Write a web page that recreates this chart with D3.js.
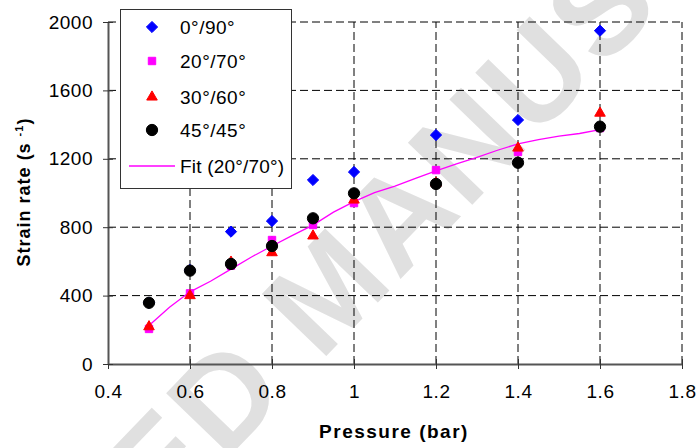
<!DOCTYPE html>
<html>
<head>
<meta charset="utf-8">
<script src="https://cdn.jsdelivr.net/npm/d3@7"></script>
<style>
  body { margin: 0; background: #fff; }
  svg { font-family: "Liberation Sans", Arial, sans-serif; }
</style>
</head>
<body>
<div id="chart"></div>
<script>
// pressure values (bar)
const pressure = [0.5, 0.6, 0.7, 0.8, 0.9, 1.0, 1.2, 1.4, 1.6];

// strain rate per fibre orientation (s^-1)
const s0_90 = [358, 550, 774, 836, 1076, 1123, 1339, 1427, 1949];
const s20_70 = [205, 413, 575, 725, 813, 941, 1134, 1240, 1380];
const s30_60 = [218, 400, 596, 651, 749, 959, 1058, 1263, 1467];
const s45_45 = [358, 546, 585, 690, 852, 998, 1053, 1177, 1388];

// fit curve for 20/70
const fitP = [0.5, 0.55, 0.6, 0.65, 0.7, 0.75, 0.8, 0.85, 0.9, 0.95, 1.0, 1.05, 1.1, 1.15, 1.2, 1.25, 1.3, 1.35, 1.4, 1.45, 1.5, 1.55, 1.6];
const fitS = [225, 332, 422, 484, 555, 626, 690, 752, 812, 888, 950, 1002, 1040, 1086, 1130, 1170, 1209, 1250, 1287, 1312, 1332, 1348, 1370];

const xTicks = [0.4, 0.6, 0.8, 1.0, 1.2, 1.4, 1.6, 1.8];
const yTicks = [0, 400, 800, 1200, 1600, 2000];

const seriesNames = ["0°/90°", "20°/70°", "30°/60°", "45°/45°"];

const width = 698, height = 448;
const svg = d3.select("#chart").append("svg")
    .attr("width", width)
    .attr("height", height);

// watermark in the background
svg.append("text")
    .attr("transform", "translate(218,468) rotate(-46)")
    .attr("x", -640)
    .attr("font-size", 130)
    .attr("font-weight", "bold")
    .attr("letter-spacing", 4)
    .attr("fill", "#e0e0e0")
    .text("ACCEPTED MANUSCRIPT");

const x = d3.scaleLinear().domain([0.4, 1.8]).range([108, 682]);
const y = d3.scaleLinear().domain([0, 2000]).range([364, 22]);

// grid
const grid = svg.append("g");
grid.selectAll(".hg").data(yTicks.slice(1)).enter().append("line")
    .attr("x1", x(0.4)).attr("x2", x(1.8))
    .attr("y1", d => y(d)).attr("y2", d => y(d))
    .attr("stroke", "#000").attr("stroke-dasharray", "8,4").attr("stroke-width", 1);
grid.selectAll(".vg").data(xTicks.slice(1)).enter().append("line")
    .attr("x1", d => x(d)).attr("x2", d => x(d))
    .attr("y1", y(0)).attr("y2", y(2000))
    .attr("stroke", "#000").attr("stroke-dasharray", "8,4").attr("stroke-width", 1);

// axes
const xAxis = svg.append("g")
    .attr("transform", `translate(0,${y(0)})`)
    .call(d3.axisBottom(x).tickValues(xTicks).tickSizeInner(5).tickSizeOuter(0).tickPadding(16)
        .tickFormat(d3.format("~g")));
const yAxis = svg.append("g")
    .attr("transform", `translate(${x(0.4)},0)`)
    .call(d3.axisLeft(y).tickValues(yTicks).tickSizeInner(5).tickSizeOuter(0).tickPadding(10)
        .tickFormat(d3.format("d")));

[xAxis, yAxis].forEach(a => {
    a.select(".domain").attr("stroke", "#555").attr("stroke-width", 2);
    a.selectAll(".tick line").attr("stroke", "#333");
    a.selectAll(".tick text").attr("font-size", 19).attr("fill", "#000")
        .attr("letter-spacing", 0.5)
        .attr("font-family", "Liberation Sans, Arial, sans-serif");
});
xAxis.selectAll(".tick line").attr("y1", -5);
yAxis.selectAll(".tick line").attr("x1", 5);

// axis titles
svg.append("text")
    .attr("x", 394).attr("y", 438)
    .attr("text-anchor", "middle")
    .attr("font-size", 19).attr("font-weight", "bold")
    .attr("letter-spacing", 1.5)
    .text("Pressure (bar)");

const yt = svg.append("text")
    .attr("transform", `translate(30,192) rotate(-90)`)
    .attr("text-anchor", "middle")
    .attr("font-size", 18).attr("font-weight", "bold")
    .attr("letter-spacing", 1);
yt.append("tspan").text("Strain rate (s ");
yt.append("tspan").attr("font-size", 11).attr("dy", -7).text("-1");
yt.append("tspan").attr("dy", 7).text(")");

// fit line
const line = d3.line().x(d => x(d[0])).y(d => y(d[1]));
svg.append("path")
    .datum(fitP.map((p, i) => [p, fitS[i]]))
    .attr("d", line)
    .attr("fill", "none")
    .attr("stroke", "#ff00ff")
    .attr("stroke-width", 1.3);

// markers
const markers = [
    { vals: s0_90, color: "#0000ff", sym: d3.symbolDiamond2, size: 80 },
    { vals: s20_70, color: "#ff00ff", sym: d3.symbolSquare2, size: 70 },
    { vals: s30_60, color: "#ff0000", sym: d3.symbolTriangle2, size: 80 },
    { vals: s45_45, color: "#000000", sym: d3.symbolCircle, size: 100 }
];

function drawSym(g, m, cx, cy) {
    g.append("path")
        .attr("d", d3.symbol().type(m.sym).size(m.size)())
        .attr("transform", `translate(${cx},${cy})`)
        .attr("fill", m.color)
        .attr("stroke", m.color)
        .attr("stroke-width", 1);
}

markers.forEach(m => {
    const g = svg.append("g");
    pressure.forEach((p, i) => drawSym(g, m, x(p), y(m.vals[i])));
});

// legend
const lg = svg.append("g");
lg.append("rect")
    .attr("x", 120.5).attr("y", 9.5).attr("width", 171).attr("height", 179)
    .attr("fill", "#fff").attr("stroke", "#333").attr("stroke-width", 1);
const rowY = [27, 61, 97, 130, 166];
markers.forEach((m, i) => {
    drawSym(lg, m, 152, rowY[i]);
    lg.append("text").attr("x", 180).attr("y", rowY[i]).attr("dy", "0.36em")
        .attr("font-size", 19).attr("letter-spacing", 0.5).text(seriesNames[i]);
});
lg.append("line")
    .attr("x1", 129).attr("x2", 175).attr("y1", rowY[4]).attr("y2", rowY[4])
    .attr("stroke", "#ff00ff").attr("stroke-width", 1.3);
lg.append("text").attr("x", 180).attr("y", rowY[4]).attr("dy", "0.36em")
    .attr("font-size", 19).attr("letter-spacing", 0.2).text("Fit (20°/70°)");
</script>
</body>
</html>
